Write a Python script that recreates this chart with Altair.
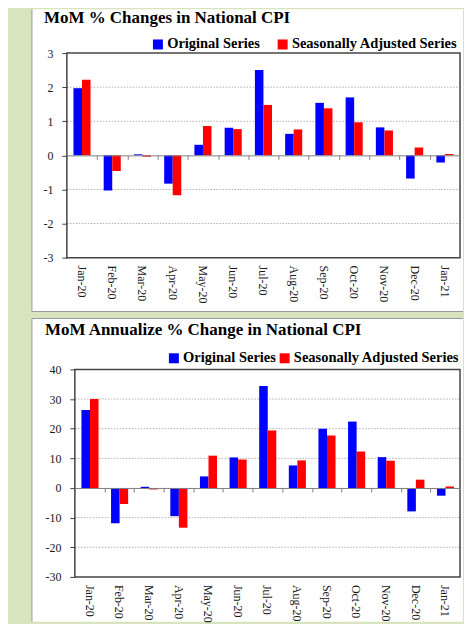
import altair as alt
import pandas as pd

months = ["Jan-20", "Feb-20", "Mar-20", "Apr-20", "May-20", "Jun-20", "Jul-20",
          "Aug-20", "Sep-20", "Oct-20", "Nov-20", "Dec-20", "Jan-21"]
series_names = ["Original Series", "Seasonally Adjusted Series"]
series_colors = ["#0000ff", "#ff0000"]

mom_title = "MoM % Changes in National CPI"
mom_original = [1.97, -1.03, 0.03, -0.83, 0.31, 0.81, 2.50, 0.63, 1.54, 1.70, 0.82, -0.68, -0.21]
mom_sa = [2.22, -0.46, -0.04, -1.17, 0.86, 0.77, 1.48, 0.76, 1.38, 0.97, 0.73, 0.23, 0.04]
mom_ticks = [-3, -2, -1, 0, 1, 2, 3]

ann_title = "MoM Annualize % Change in National CPI"
ann_original = [26.3, -11.9, 0.4, -9.5, 3.9, 10.3, 34.4, 7.6, 20.0, 22.4, 10.4, -7.9, -2.6]
ann_sa = [30.0, -5.4, -0.5, -13.4, 10.9, 9.6, 19.4, 9.3, 17.7, 12.3, 9.2, 2.8, 0.5]
ann_ticks = [-30, -20, -10, 0, 10, 20, 30, 40]

GREEN = "#d7e4bd"
SERIF = "Liberation Serif"


def long_table(orig, sa):
    rows = []
    for m, a, b in zip(months, orig, sa):
        rows.append({"month": m, "series": series_names[0], "value": a})
        rows.append({"month": m, "series": series_names[1], "value": b})
    return pd.DataFrame(rows)


def panel(title, orig, sa, ticks, *, w, h, x0, top, bottom, edge_y,
          leg_x, leg_y, col_pad, t_x, t_y):
    df = long_table(orig, sa)
    ymin, ymax = ticks[0], ticks[-1]
    zero_from_bottom = h * (0 - ymin) / (ymax - ymin)
    one = pd.DataFrame({"k": [0]})
    title_df = pd.DataFrame({"title": [title]})
    grid_df = pd.DataFrame({"value": [t for t in ticks if t not in (ymin, ymax, 0)]})
    label_df = pd.DataFrame({"month": months})

    x_enc = alt.X(
        "month:N", sort=months, title=None,
        scale=alt.Scale(range=[x0, w], paddingInner=0, paddingOuter=0),
        axis=alt.Axis(orient="bottom", offset=-zero_from_bottom, labels=False,
                      ticks=True, tickBand="extent", tickSize=4, tickColor="#808080",
                      tickWidth=1, domain=True, domainColor="#808080", domainWidth=1,
                      grid=False, zindex=1),
    )
    y_enc = alt.Y(
        "value:Q", title=None, stack=None,
        scale=alt.Scale(domain=[ymin, ymax], nice=False, zero=False),
        axis=alt.Axis(values=ticks, offset=-x0, domain=False, grid=False, ticks=True,
                      tickSize=5, tickColor="#404040", tickWidth=1, labelPadding=9,
                      labelExpr="'' + datum.value", zindex=1),
    )

    strip = alt.Chart(one).mark_rect(fill=GREEN).encode(
        x=alt.value(-59), x2=alt.value(-35), y=alt.value(top), y2=alt.value(bottom))
    sheet = alt.Chart(one).mark_rect(fill="white").encode(
        x=alt.value(-35), x2=alt.value(397), y=alt.value(top), y2=alt.value(bottom))
    edge_left = alt.Chart(one).mark_rule(color="#9a9a9a", strokeWidth=1).encode(
        x=alt.value(-35), y=alt.value(top), y2=alt.value(bottom))
    edge_h = alt.Chart(one).mark_rule(color="#9a9a9a", strokeWidth=1).encode(
        x=alt.value(-35), x2=alt.value(397), y=alt.value(edge_y))

    heading = alt.Chart(title_df).mark_text(
        align="left", baseline="alphabetic", font=SERIF, fontSize=17,
        fontWeight="bold", color="black").encode(
        x=alt.value(t_x), y=alt.value(t_y), text="title:N")

    grid = alt.Chart(grid_df).mark_rule(color="#b0b0b0", strokeWidth=1,
                                        strokeDash=[1.5, 1.5]).encode(
        y=y_enc, x=alt.value(x0), x2=alt.value(w))

    bars = alt.Chart(df).mark_bar().encode(
        x=x_enc,
        xOffset=alt.XOffset("series:N", sort=series_names,
                            scale=alt.Scale(paddingInner=0, paddingOuter=0.77)),
        y=y_enc,
        y2=alt.datum(0),
        color=alt.Color(
            "series:N", sort=series_names,
            scale=alt.Scale(domain=series_names, range=series_colors),
            legend=alt.Legend(title=None, orient="none", legendX=leg_x, legendY=leg_y,
                              direction="horizontal", symbolType="square",
                              symbolSize=100, symbolStrokeWidth=0, labelFont=SERIF,
                              labelFontSize=14.5, labelFontWeight="bold",
                              labelColor="black", labelOffset=2, labelLimit=400,
                              columnPadding=col_pad, padding=0),
        ),
    )

    frame = alt.Chart(one).mark_rect(fill="white", fillOpacity=0, stroke="#454545",
                                     strokeWidth=1.5).encode(
        x=alt.value(x0), x2=alt.value(w), y=alt.value(0), y2=alt.value(h))

    labels = alt.Chart(label_df).mark_text(angle=90, align="left", baseline="middle",
                                           font=SERIF, fontSize=12,
                                           color="#1a1a1a").encode(
        x=x_enc, y=alt.value(h + 8), text="month:N")

    return alt.layer(strip, sheet, edge_left, edge_h, heading, grid, bars, frame,
                     labels).properties(width=w, height=h)


top_chart = panel(mom_title, mom_original, mom_sa, mom_ticks,
                  w=394, h=205, x0=0, top=-44, bottom=259, edge_y=259,
                  leg_x=84, leg_y=-16, col_pad=15, t_x=-23, t_y=-30)
bottom_chart = panel(ann_title, ann_original, ann_sa, ann_ticks,
                     w=394, h=208, x0=8, top=-51, bottom=253, edge_y=-51,
                     leg_x=100, leg_y=-18.5, col_pad=1, t_x=-22, t_y=-34)

chart = alt.vconcat(top_chart, bottom_chart, spacing=5).resolve_scale(
    x="independent", y="independent", color="independent"
).resolve_legend(color="independent").properties(
    padding={"top": -0.5, "left": 0, "right": 0, "bottom": 0}, background=GREEN
).configure_view(stroke=None).configure_axis(
    labelFont=SERIF, labelFontSize=12, labelColor="#1a1a1a"
)

chart.save("out.html", embed_options={"renderer": "svg", "actions": False})
